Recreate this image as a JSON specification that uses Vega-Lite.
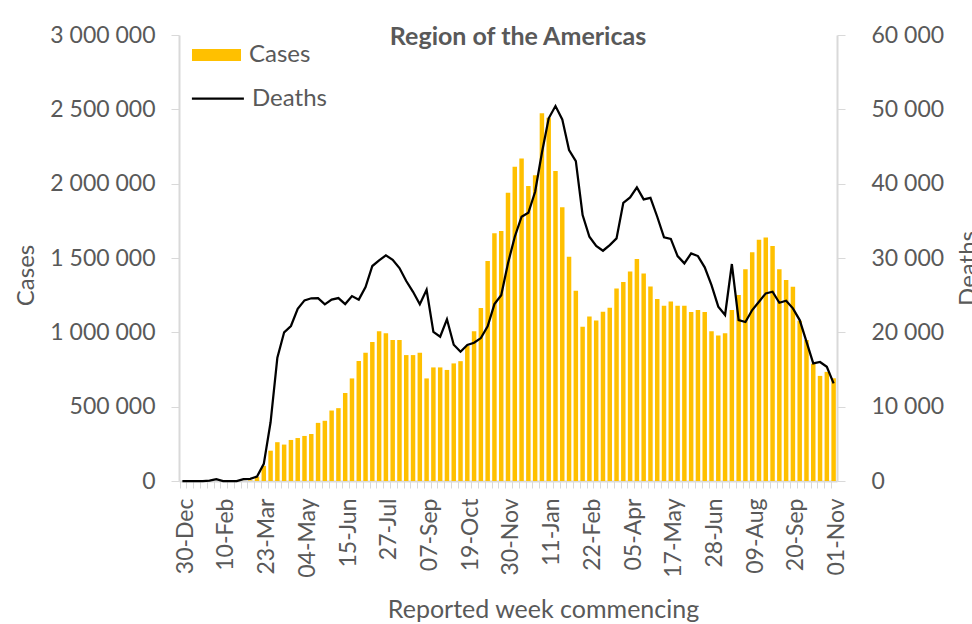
{
  "$schema": "https://vega.github.io/schema/vega-lite/v6.json",
  "width": 658,
  "height": 446,
  "autosize": {"type": "none"},
  "padding": {"left": 179, "top": 35, "right": 135, "bottom": 143},
  "background": "white",
  "title": {"text": "Region of the Americas", "fontSize": 25, "fontWeight": "bold", "color": "#595959", "font": "Lato", "anchor": "middle", "frame": "group", "dx": 10, "offset": -46, "baseline": "alphabetic"},
  "data": {"values": [
    {"w": "30-Dec", "c": 0, "d": 0},
    {"w": "06-Jan", "c": 0, "d": 0},
    {"w": "13-Jan", "c": 0, "d": 0},
    {"w": "20-Jan", "c": 0, "d": 0},
    {"w": "27-Jan", "c": 0, "d": 50},
    {"w": "03-Feb", "c": 0, "d": 250},
    {"w": "10-Feb", "c": 0, "d": 0},
    {"w": "17-Feb", "c": 0, "d": 0},
    {"w": "24-Feb", "c": 0, "d": 0},
    {"w": "02-Mar", "c": 500, "d": 250},
    {"w": "09-Mar", "c": 4000, "d": 300},
    {"w": "16-Mar", "c": 29000, "d": 600},
    {"w": "23-Mar", "c": 102000, "d": 2300},
    {"w": "30-Mar", "c": 204000, "d": 7900},
    {"w": "06-Apr", "c": 261000, "d": 16600},
    {"w": "13-Apr", "c": 245000, "d": 20000},
    {"w": "20-Apr", "c": 276000, "d": 20850},
    {"w": "27-Apr", "c": 289000, "d": 23150},
    {"w": "04-May", "c": 303000, "d": 24300},
    {"w": "11-May", "c": 316000, "d": 24580},
    {"w": "18-May", "c": 391000, "d": 24600},
    {"w": "25-May", "c": 405000, "d": 23760},
    {"w": "01-Jun", "c": 474000, "d": 24400},
    {"w": "08-Jun", "c": 490000, "d": 24610},
    {"w": "15-Jun", "c": 592000, "d": 23800},
    {"w": "22-Jun", "c": 690000, "d": 24880},
    {"w": "29-Jun", "c": 807000, "d": 24400},
    {"w": "06-Jul", "c": 862000, "d": 26100},
    {"w": "13-Jul", "c": 935000, "d": 28920},
    {"w": "20-Jul", "c": 1007000, "d": 29680},
    {"w": "27-Jul", "c": 993000, "d": 30350},
    {"w": "03-Aug", "c": 948000, "d": 29760},
    {"w": "10-Aug", "c": 948000, "d": 28650},
    {"w": "17-Aug", "c": 847000, "d": 26900},
    {"w": "24-Aug", "c": 847000, "d": 25450},
    {"w": "31-Aug", "c": 862000, "d": 23780},
    {"w": "07-Sep", "c": 690000, "d": 25730},
    {"w": "14-Sep", "c": 764000, "d": 20050},
    {"w": "21-Sep", "c": 764000, "d": 19410},
    {"w": "28-Sep", "c": 747000, "d": 21750},
    {"w": "05-Oct", "c": 791000, "d": 18330},
    {"w": "12-Oct", "c": 806000, "d": 17390},
    {"w": "19-Oct", "c": 908000, "d": 18290},
    {"w": "26-Oct", "c": 1007000, "d": 18600},
    {"w": "02-Nov", "c": 1164000, "d": 19230},
    {"w": "09-Nov", "c": 1480000, "d": 20800},
    {"w": "16-Nov", "c": 1666000, "d": 23800},
    {"w": "23-Nov", "c": 1682000, "d": 25000},
    {"w": "30-Nov", "c": 1939000, "d": 29300},
    {"w": "07-Dec", "c": 2114000, "d": 32860},
    {"w": "14-Dec", "c": 2170000, "d": 35550},
    {"w": "21-Dec", "c": 1984000, "d": 36090},
    {"w": "28-Dec", "c": 2056000, "d": 38910},
    {"w": "04-Jan", "c": 2473000, "d": 44160},
    {"w": "11-Jan", "c": 2444000, "d": 48790},
    {"w": "18-Jan", "c": 2085000, "d": 50440},
    {"w": "25-Jan", "c": 1841000, "d": 48650},
    {"w": "01-Feb", "c": 1509000, "d": 44520},
    {"w": "08-Feb", "c": 1280000, "d": 43040},
    {"w": "15-Feb", "c": 1037000, "d": 35780},
    {"w": "22-Feb", "c": 1107000, "d": 32860},
    {"w": "01-Mar", "c": 1080000, "d": 31610},
    {"w": "08-Mar", "c": 1138000, "d": 30980},
    {"w": "15-Mar", "c": 1166000, "d": 31740},
    {"w": "22-Mar", "c": 1295000, "d": 32640},
    {"w": "29-Mar", "c": 1338000, "d": 37430},
    {"w": "05-Apr", "c": 1410000, "d": 38150},
    {"w": "12-Apr", "c": 1494000, "d": 39500},
    {"w": "19-Apr", "c": 1396000, "d": 37890},
    {"w": "26-Apr", "c": 1309000, "d": 38100},
    {"w": "03-May", "c": 1224000, "d": 35550},
    {"w": "10-May", "c": 1179000, "d": 32780},
    {"w": "17-May", "c": 1208000, "d": 32570},
    {"w": "24-May", "c": 1179000, "d": 30260},
    {"w": "31-May", "c": 1179000, "d": 29280},
    {"w": "07-Jun", "c": 1137000, "d": 30620},
    {"w": "14-Jun", "c": 1151000, "d": 30260},
    {"w": "21-Jun", "c": 1137000, "d": 28740},
    {"w": "28-Jun", "c": 1007000, "d": 26360},
    {"w": "05-Jul", "c": 979000, "d": 23450},
    {"w": "12-Jul", "c": 993000, "d": 22330},
    {"w": "19-Jul", "c": 1150000, "d": 29190},
    {"w": "26-Jul", "c": 1251000, "d": 21650},
    {"w": "02-Aug", "c": 1424000, "d": 21390},
    {"w": "09-Aug", "c": 1538000, "d": 23000},
    {"w": "16-Aug", "c": 1623000, "d": 24120},
    {"w": "23-Aug", "c": 1638000, "d": 25240},
    {"w": "30-Aug", "c": 1580000, "d": 25460},
    {"w": "06-Sep", "c": 1424000, "d": 23980},
    {"w": "13-Sep", "c": 1352000, "d": 24250},
    {"w": "20-Sep", "c": 1307000, "d": 23230},
    {"w": "27-Sep", "c": 1078000, "d": 21650},
    {"w": "04-Oct", "c": 948000, "d": 18740},
    {"w": "11-Oct", "c": 789000, "d": 15830},
    {"w": "18-Oct", "c": 707000, "d": 16010},
    {"w": "25-Oct", "c": 734000, "d": 15370},
    {"w": "01-Nov", "c": 691000, "d": 13140}
  ]},
  "encoding": {
    "x": {
      "field": "w", "type": "ordinal", "sort": null,
      "scale": {"paddingInner": 0.34, "paddingOuter": 0.17},
      "axis": {
        "title": "Reported week commencing",
        "labelAngle": -90,
        "labelExpr": "indexof(['30-Dec','10-Feb','23-Mar','04-May','15-Jun','27-Jul','07-Sep','19-Oct','30-Nov','11-Jan','22-Feb','05-Apr','17-May','28-Jun','09-Aug','20-Sep','01-Nov'], datum.value) >= 0 ? datum.label : ''",
        "labelOverlap": false,
        "labelPadding": 10,
        "labelFontSize": 23,
        "bandPosition": 0,
        "labelOffset": 3.4,
        "tickSize": 7,
        "tickColor": "#D9D9D9",
        "domainColor": "#D9D9D9",
        "domainWidth": 2,
        "titleX": 364,
        "titleY": 136,
        "titleBaseline": "alphabetic",
        "titleAlign": "center",
        "titleFontSize": 25,
        "titleFontWeight": "normal"
      }
    }
  },
  "layer": [
    {
      "mark": {"type": "bar"},
      "encoding": {
        "y": {
          "field": "c", "type": "quantitative",
          "scale": {"domain": [0, 3000000], "nice": false},
          "axis": {
            "title": "Cases",
            "values": [0, 500000, 1000000, 1500000, 2000000, 2500000, 3000000],
            "labelExpr": "replace(replace(format(datum.value, ','), ',', ' '), ',', ' ')",
            "grid": false,
            "tickSize": 8,
            "labelPadding": 16,
            "labelFontSize": 23,
            "tickColor": "#D9D9D9",
            "domainColor": "#D9D9D9",
            "domainWidth": 2,
            "titleAngle": -90,
            "titleX": -146,
            "titleY": 240,
            "titleBaseline": "alphabetic",
            "titleAlign": "center",
            "titleFontSize": 24,
            "titleFontWeight": "normal"
          }
        },
        "fill": {
          "datum": "Cases",
          "scale": {"range": ["#FFC000"]},
          "legend": {
            "orient": "none", "legendX": 13, "legendY": -4.5, "title": null, "padding": 0,
            "symbolType": "M-1,-0.245H1V0.245H-1Z", "symbolSize": 2401, "symbolStrokeWidth": 0,
            "labelFontSize": 24, "labelFont": "Lato", "labelColor": "#595959", "labelOffset": 8
          }
        }
      }
    },
    {
      "mark": {"type": "line", "strokeWidth": 2.25},
      "encoding": {
        "y": {
          "field": "d", "type": "quantitative",
          "scale": {"domain": [0, 60000], "nice": false},
          "axis": {
            "orient": "right",
            "title": "Deaths",
            "values": [0, 10000, 20000, 30000, 40000, 50000, 60000],
            "labelExpr": "replace(replace(format(datum.value, ','), ',', ' '), ',', ' ')",
            "grid": false,
            "tickSize": 8,
            "labelPadding": 26,
            "labelFontSize": 23,
            "tickColor": "#D9D9D9",
            "domainColor": "#D9D9D9",
            "domainWidth": 2,
            "titleAngle": -90,
            "titleX": 138,
            "titleY": 233,
            "titleBaseline": "alphabetic",
            "titleAlign": "center",
            "titleFontSize": 24,
            "titleFontWeight": "normal"
          }
        },
        "stroke": {
          "datum": "Deaths",
          "scale": {"range": ["#000000"]},
          "legend": {
            "orient": "none", "legendX": 11.4, "legendY": 36, "title": null, "padding": 0,
            "symbolType": "stroke", "symbolSize": 2704, "symbolStrokeWidth": 2.25,
            "labelFontSize": 24, "labelFont": "Lato", "labelColor": "#595959", "labelOffset": 6.6
          }
        }
      }
    }
  ],
  "resolve": {"scale": {"y": "independent"}},
  "config": {
    "font": "Lato",
    "view": {"stroke": null},
    "axis": {"labelColor": "#595959", "titleColor": "#595959", "labelFont": "Lato", "titleFont": "Lato"}
  }
}
